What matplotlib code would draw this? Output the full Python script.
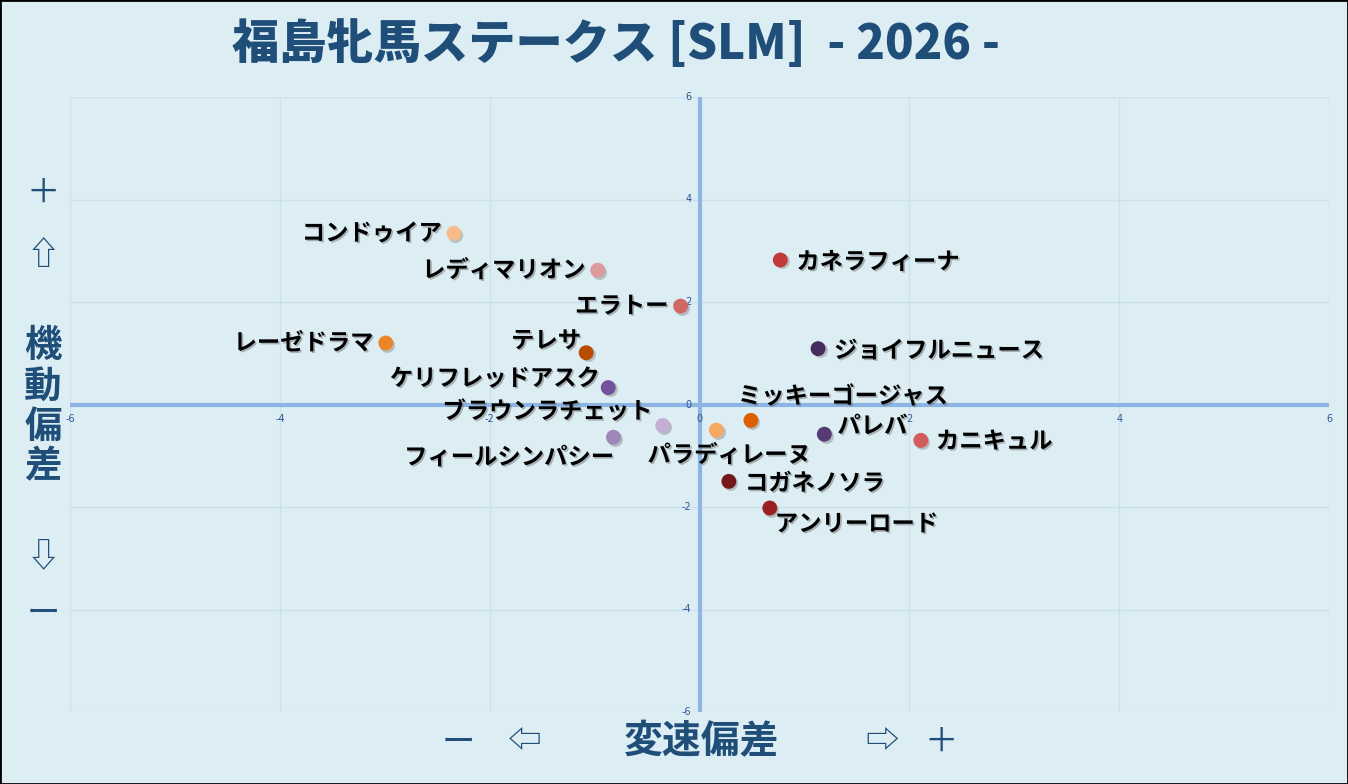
import matplotlib
matplotlib.use("Agg")
import matplotlib.pyplot as plt
import matplotlib.patheffects as pe
from matplotlib.transforms import ScaledTranslation

plt.rcParams['font.family'] = ['Noto Sans CJK JP', 'DejaVu Sans']

# -----------------------------
# DATA
# -----------------------------
horses = ["コンドゥイア", "レディマリオン", "エラトー", "レーゼドラマ", "テレサ",
          "ケリフレッドアスク", "ブラウンラチェット", "フィールシンパシー", "パラディレーヌ",
          "ミッキーゴージャス", "パレバ", "カニキュル", "コガネノソラ", "アンリーロード",
          "カネラフィーナ", "ジョイフルニュース"]
speed_dev = [-2.34, -0.97, -0.18, -2.99, -1.08, -0.87, -0.35, -0.82, 0.16,
             0.49, 1.19, 2.11, 0.28, 0.67, 0.77, 1.13]
mobility_dev = [3.34, 2.62, 1.92, 1.20, 1.01, 0.33, -0.41, -0.64, -0.50,
                -0.31, -0.58, -0.70, -1.50, -2.02, 2.82, 1.09]
dot_colors = ["#F6BC8C", "#DE9A9A", "#D06868", "#EE8428", "#B84C00",
              "#74509A", "#C4AED4", "#A086B8", "#F7A860",
              "#DC6000", "#563A74", "#D45C5C", "#74181A", "#982022",
              "#C43A3A", "#462C5E"]
ticks = [-6, -4, -2, 0, 2, 4, 6]

# label placement: (dx px, dy px, ha)
label_pos = {
    "コンドゥイア": (-12, 0, "right"),
    "レディマリオン": (-12, 0, "right"),
    "エラトー": (-12, 0, "right"),
    "レーゼドラマ": (-12, 0, "right"),
    "テレサ": (-5, 12, "right"),
    "ケリフレッドアスク": (-8, 9, "right"),
    "ブラウンラチェット": (-10, 14, "right"),
    "フィールシンパシー": (1, -20, "right"),
    "パラディレーヌ": (13, -25, "center"),
    "ミッキーゴージャス": (-13, 24, "left"),
    "パレバ": (13, 8, "left"),
    "カニキュル": (15, -1, "left"),
    "コガネノソラ": (16, -2, "left"),
    "アンリーロード": (5, -16, "left"),
    "カネラフィーナ": (16, -2, "left"),
    "ジョイフルニュース": (16, -2, "left"),
}

bg = "#DCEEF4"
navy = "#1F4E79"

fig = plt.figure(figsize=(13.48, 7.84), dpi=100, facecolor=bg)
fig.patches.append(plt.Rectangle((0, 0), 1, 1, transform=fig.transFigure,
                                  fill=False, edgecolor="black", linewidth=2))
ax = fig.add_axes([70 / 1348, 1 - 712 / 784, 1259 / 1348, 615 / 784])
ax.set_facecolor(bg)
ax.set_xlim(-6, 6)
ax.set_ylim(-6, 6)

for t in ticks:
    ax.axvline(t, color="#CCE0F0", lw=1, zorder=0)
    ax.axhline(t, color="#CCE0F0", lw=1, zorder=0)
ax.axvline(0, color="#8DB4E2", lw=3, zorder=1)
ax.axhline(0, color="#8DB4E2", lw=3, zorder=1)
for s in ax.spines.values():
    s.set_visible(False)
ax.set_xticks([])
ax.set_yticks([])

# tick labels at the crossing axes
for t in ticks:
    ax.annotate(str(t), (t, 0), xytext=(0, -14), textcoords="offset pixels",
                ha="center", va="center", fontsize=7, color="#2F5597",
                family="DejaVu Sans")
    ax.annotate(str(t), (0, t), xytext=(-8, 0), textcoords="offset pixels",
                ha="right", va="center", fontsize=7, color="#2F5597",
                family="DejaVu Sans")

# dots with a soft shadow
ax.scatter(speed_dev, mobility_dev, s=115, c="#777777", alpha=0.4, zorder=2,
           linewidths=0,
           transform=ax.transData + ScaledTranslation(1.5 / 100, -1.5 / 100,
                                                      fig.dpi_scale_trans))
ax.scatter(speed_dev, mobility_dev, s=115, c=dot_colors, zorder=3, linewidths=0)

for name, x, y in zip(horses, speed_dev, mobility_dev):
    dx, dy, ha = label_pos[name]
    t = ax.annotate(name, (x, y), xytext=(dx, dy), textcoords="offset pixels",
                    ha=ha, va="center", fontsize=16.8, fontweight="bold",
                    color="black", zorder=4)
    t.set_path_effects([pe.SimplePatchShadow(offset=(1.2, -1.2),
                                             shadow_rgbFace="#555555", alpha=0.4),
                        pe.Normal()])

# title
fig.text(616 / 1348, 1 - 45 / 784, "福島牝馬ステークス [SLM]  - 2026 -",
         ha="center", va="center", fontsize=34, fontweight="heavy", color=navy)

# y-axis label pieces
for txt, yp in [("＋", 193), ("⇧", 256), ("⇩", 557), ("ー", 613)]:
    fig.text(43 / 1348, 1 - yp / 784, txt, ha="center", va="center",
             fontsize=24, color=navy)
for ch, yp in zip("機動偏差", [346, 386, 426, 466]):
    fig.text(43 / 1348, 1 - yp / 784, ch, ha="center", va="center",
             fontsize=27, fontweight="bold", color=navy)

# x-axis label pieces
for txt, xp in [("ー", 458), ("⇦", 524), ("⇨", 882), ("＋", 941)]:
    fig.text(xp / 1348, 1 - 742 / 784, txt, ha="center", va="center",
             fontsize=24, color=navy)
fig.text(702 / 1348, 1 - 742 / 784, "変速偏差", ha="center", va="center",
         fontsize=28, fontweight="bold", color=navy)

fig.savefig("out.png", dpi=100, facecolor=bg)
